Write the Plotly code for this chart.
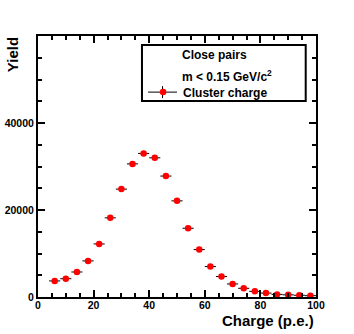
import plotly.graph_objects as go

# bin centres (p.e.) and yields
charge = [6, 10, 14, 18, 22, 26, 30, 34, 38, 42, 46, 50,
          54, 58, 62, 66, 70, 74, 78, 82, 86, 90, 94, 98]
yield_ = [3700, 4200, 5750, 8300, 12200, 18200, 24800, 30600, 33000, 32000, 27800, 22100,
          15800, 10900, 7000, 4700, 3000, 2000, 1300, 900, 600, 500, 400, 300]
bin_half = [2] * len(charge)
yield_err = [v ** 0.5 for v in yield_]

x_ticks = [0, 20, 40, 60, 80, 100]
y_ticks = [0, 20000, 40000]

font = "Liberation Sans, Arial, sans-serif"

fig = go.Figure()
fig.add_trace(go.Scatter(
    x=charge, y=yield_,
    mode="markers",
    name="<b>Cluster charge</b>",
    marker=dict(color="#ff0000", size=6.5, symbol="circle"),
    error_x=dict(type="data", array=bin_half, color="black", thickness=1, width=0),
    error_y=dict(type="data", array=yield_err, color="black", thickness=1, width=0),
))

axis_common = dict(
    showgrid=False, zeroline=False, showline=True, linecolor="black", linewidth=2,
    mirror="ticks", ticks="inside", ticklen=7, tickwidth=1.5, tickcolor="black",
    automargin=False,
    tickfont=dict(family=font, size=10.5, color="black", weight="bold"),
)

fig.update_xaxes(
    range=[0, 100], tickvals=x_ticks, ticktext=[str(v) for v in x_ticks],
    ticklabelstandoff=-3,
    minor=dict(dtick=5, tick0=0, ticks="inside", ticklen=4, tickcolor="black", tickwidth=1.5),
    title=None, **axis_common,
)
fig.update_yaxes(
    range=[0, 60000], tickvals=y_ticks, ticktext=[str(v) for v in y_ticks],
    minor=dict(dtick=5000, tick0=0, ticks="inside", ticklen=4, tickcolor="black", tickwidth=1.5),
    title=None, **axis_common,
)

# legend frame, legend symbol error bars and header lines
fig.add_shape(type="rect", xref="paper", yref="paper",
              x0=0.374, x1=0.963, y0=0.751, y1=0.9655,
              line=dict(color="black", width=2), fillcolor="white", layer="above")
fig.add_shape(type="line", xref="paper", yref="paper",
              x0=0.396, x1=0.500, y0=0.785, y1=0.785,
              line=dict(color="black", width=1), layer="above")
fig.add_shape(type="line", xref="paper", yref="paper",
              x0=0.448, x1=0.448, y0=0.762, y1=0.808,
              line=dict(color="black", width=1), layer="above")
fig.add_annotation(xref="paper", yref="paper", x=0.51, y=0.928, xanchor="left", yanchor="middle",
                   text="<b>Close pairs</b>", showarrow=False,
                   font=dict(family=font, size=12, color="black"))
fig.add_annotation(xref="paper", yref="paper", x=0.51, y=0.845, xanchor="left", yanchor="middle",
                   text="<b>m < 0.15 GeV/c<sup>2</sup></b>", showarrow=False,
                   font=dict(family=font, size=12, color="black"))

# axis titles
fig.add_annotation(xref="paper", yref="paper", x=1.0, y=-0.05, xanchor="right", yanchor="top",
                   text="<b>Charge (p.e.)</b>", showarrow=False,
                   font=dict(family=font, size=15, color="black"))
fig.add_annotation(xref="paper", yref="paper", x=-0.053, y=1.004, xanchor="right", yanchor="top",
                   text="<b>Yield</b>", showarrow=False, textangle=-90,
                   font=dict(family=font, size=15, color="black"))

fig.update_layout(
    width=354, height=334,
    margin=dict(l=38, r=38, t=36, b=37),
    paper_bgcolor="white", plot_bgcolor="white",
    showlegend=True,
    legend=dict(x=0.378, y=0.785, xanchor="left", yanchor="middle",
                bgcolor="rgba(0,0,0,0)", borderwidth=0, itemwidth=30,
                font=dict(family=font, size=12, color="black")),
)

# drop the browser's default body margin so the figure sits at the page corner
fig.write_html("out.html", config={"displayModeBar": False},
               post_script="document.body.style.margin='0';")
